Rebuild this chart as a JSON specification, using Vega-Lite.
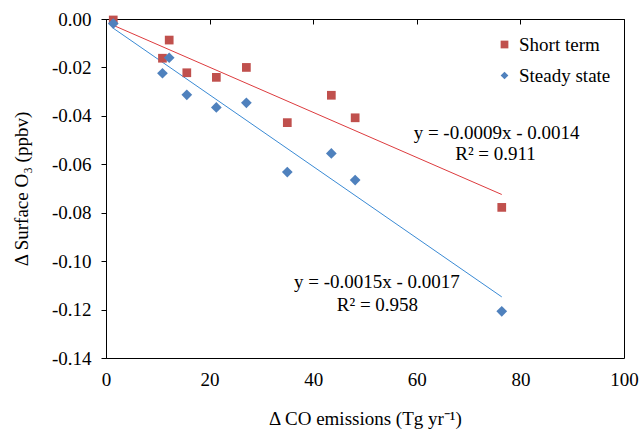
{
  "$schema": "https://vega.github.io/schema/vega-lite/v6.json",
  "width": 518,
  "height": 339,
  "autosize": {"type": "none"},
  "padding": {"left": 106, "top": 19, "right": 16, "bottom": 72},
  "background": "white",
  "config": {
    "font": "Liberation Serif",
    "view": {"stroke": "black", "strokeWidth": 1},
    "axis": {
      "grid": false,
      "domainColor": "black",
      "tickColor": "black",
      "labelColor": "black",
      "titleColor": "black",
      "labelFont": "Liberation Serif",
      "titleFont": "Liberation Serif",
      "labelFontSize": 19,
      "titleFontSize": 19,
      "titleFontWeight": "normal"
    },
    "legend": {
      "orient": "none",
      "legendX": 389,
      "legendY": 16,
      "labelFont": "Liberation Serif",
      "labelFontSize": 19,
      "labelColor": "black",
      "rowPadding": 11,
      "symbolSize": 60,
      "symbolStrokeWidth": 0,
      "labelOffset": 5
    }
  },
  "data": {
    "values": [
      {"series": "Short term", "x": 1.4, "y": -0.0004},
      {"series": "Short term", "x": 12.2, "y": -0.0087},
      {"series": "Short term", "x": 10.9, "y": -0.0162},
      {"series": "Short term", "x": 15.6, "y": -0.0222},
      {"series": "Short term", "x": 21.3, "y": -0.0241},
      {"series": "Short term", "x": 27.1, "y": -0.0200},
      {"series": "Short term", "x": 35.0, "y": -0.0428},
      {"series": "Short term", "x": 43.5, "y": -0.0315},
      {"series": "Short term", "x": 48.1, "y": -0.0408},
      {"series": "Short term", "x": 76.4, "y": -0.0778},
      {"series": "Steady state", "x": 1.4, "y": -0.0019},
      {"series": "Steady state", "x": 12.2, "y": -0.0160},
      {"series": "Steady state", "x": 10.9, "y": -0.0224},
      {"series": "Steady state", "x": 15.6, "y": -0.0313},
      {"series": "Steady state", "x": 21.3, "y": -0.0365},
      {"series": "Steady state", "x": 27.1, "y": -0.0346},
      {"series": "Steady state", "x": 35.0, "y": -0.0632},
      {"series": "Steady state", "x": 43.5, "y": -0.0555},
      {"series": "Steady state", "x": 48.1, "y": -0.0665},
      {"series": "Steady state", "x": 76.4, "y": -0.1207}
    ]
  },
  "resolve": {"axis": {"x": "independent"}},
  "layer": [
    {
      "transform": [{"filter": "datum.series === 'Short term'"}, {"regression": "y", "on": "x"}],
      "mark": {"type": "line", "strokeWidth": 1, "color": "#DD3B3E"},
      "encoding": {
        "x": {"field": "x", "type": "quantitative", "scale": {"domain": [0, 100], "nice": false},
          "axis": {"orient": "top", "labels": false, "title": null, "values": [0, 20, 40, 60, 80, 100], "tickSize": -5, "domain": true}},
        "y": {"field": "y", "type": "quantitative"}
      }
    },
    {
      "transform": [{"filter": "datum.series === 'Steady state'"}, {"regression": "y", "on": "x"}],
      "mark": {"type": "line", "strokeWidth": 1, "color": "#3A8AD4"},
      "encoding": {
        "x": {"field": "x", "type": "quantitative", "axis": null},
        "y": {"field": "y", "type": "quantitative"}
      }
    },
    {
      "transform": [{"filter": "datum.series === 'Short term'"}],
      "mark": {"type": "point", "filled": true, "opacity": 1, "strokeWidth": 0, "size": 76},
      "encoding": {
        "x": {"field": "x", "type": "quantitative", "scale": {"domain": [0, 100], "nice": false},
          "axis": {"orient": "bottom", "values": [0, 20, 40, 60, 80, 100], "ticks": false, "tickSize": 0, "labelPadding": 12, "labelFlush": false, "domain": false,
            "title": "Δ CO emissions (Tg yr⁻¹)", "titlePadding": 20}},
        "y": {"field": "y", "type": "quantitative", "scale": {"domain": [-0.14, 0], "nice": false},
          "axis": {"values": [0, -0.02, -0.04, -0.06, -0.08, -0.1, -0.12, -0.14],
            "labelExpr": "replace(format(datum.value, '.2f'), '\u2212', '-')", "tickSize": 5, "labelPadding": 10,
            "title": "Δ Surface O₃ (ppbv)", "titlePadding": 20}},
        "color": {"field": "series", "type": "nominal", "title": null,
          "scale": {"domain": ["Short term", "Steady state"], "range": ["#C0504D", "#4F81BD"]}},
        "shape": {"field": "series", "type": "nominal", "title": null,
          "scale": {"domain": ["Short term", "Steady state"], "range": ["square", "diamond"]}}
      }
    },
    {
      "transform": [{"filter": "datum.series === 'Steady state'"}],
      "mark": {"type": "point", "filled": true, "opacity": 1, "strokeWidth": 0, "size": 115},
      "encoding": {
        "x": {"field": "x", "type": "quantitative", "axis": null},
        "y": {"field": "y", "type": "quantitative"},
        "color": {"field": "series", "type": "nominal", "title": null},
        "shape": {"field": "series", "type": "nominal", "title": null}
      }
    },
    {
      "data": {"values": [{}]},
      "mark": {"type": "text", "font": "Liberation Serif", "fontSize": 19, "color": "black", "align": "center", "baseline": "middle"},
      "encoding": {
        "x": {"datum": 75.4, "type": "quantitative", "axis": null},
        "y": {"datum": -0.0471, "type": "quantitative"},
        "text": {"value": "y = -0.0009x - 0.0014"}
      }
    },
    {
      "data": {"values": [{}]},
      "mark": {"type": "text", "font": "Liberation Serif", "fontSize": 19, "color": "black", "align": "center", "baseline": "middle"},
      "encoding": {
        "x": {"datum": 75.2, "type": "quantitative", "axis": null},
        "y": {"datum": -0.0558, "type": "quantitative"},
        "text": {"value": "R² = 0.911"}
      }
    },
    {
      "data": {"values": [{}]},
      "mark": {"type": "text", "font": "Liberation Serif", "fontSize": 19, "color": "black", "align": "center", "baseline": "middle"},
      "encoding": {
        "x": {"datum": 52.3, "type": "quantitative", "axis": null},
        "y": {"datum": -0.1086, "type": "quantitative"},
        "text": {"value": "y = -0.0015x - 0.0017"}
      }
    },
    {
      "data": {"values": [{}]},
      "mark": {"type": "text", "font": "Liberation Serif", "fontSize": 19, "color": "black", "align": "center", "baseline": "middle"},
      "encoding": {
        "x": {"datum": 52.4, "type": "quantitative", "axis": null},
        "y": {"datum": -0.1181, "type": "quantitative"},
        "text": {"value": "R² = 0.958"}
      }
    }
  ]
}
